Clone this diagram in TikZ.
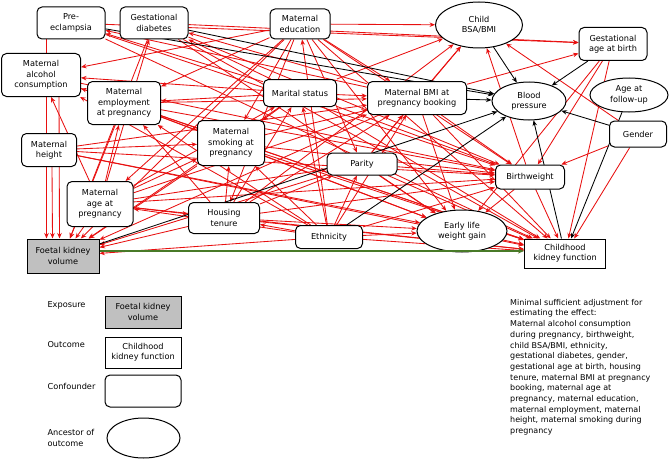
\documentclass[tikz,border=0pt]{standalone}
\usepackage{fontspec}
\setmainfont{DejaVu Sans}
\usetikzlibrary{arrows.meta,shapes.geometric,backgrounds}
\definecolor{dagred}{RGB}{232,16,16}
\definecolor{daggreen}{RGB}{72,122,40}
\definecolor{expogray}{RGB}{192,192,192}

\begin{document}
\begin{tikzpicture}[x=1pt, y=-1pt,
    font=\fontsize{8.2}{10.4}\selectfont,
    conf/.style={draw, rectangle, rounded corners=5pt, fill=white, align=center, line width=1pt, inner sep=1pt},
    anc/.style={draw, ellipse, fill=white, align=center, line width=1pt, inner sep=0pt},
    expo/.style={draw, rectangle, fill=expogray, align=center, line width=1pt, inner sep=1pt},
    outc/.style={draw, rectangle, fill=white, align=center, line width=1pt, inner sep=1pt},
    redarr/.style={dagred, line width=0.85pt, -{Stealth[length=5.5pt,width=4.5pt]}},
    blackarr/.style={black, line width=0.85pt, -{Stealth[length=5.5pt,width=4.5pt]}}]
    \useasboundingbox (0,0) rectangle (669,460);

    \node[conf, minimum width=68, minimum height=32] (pe) at (71,23) {Pre-\\eclampsia};
    \node[conf, minimum width=68, minimum height=32] (gd) at (154,23) {Gestational\\diabetes};
    \node[conf, minimum width=60, minimum height=30] (edu) at (300,24) {Maternal\\education};
    \node[anc, minimum width=87, minimum height=46] (bsa) at (479,25) {Child\\BSA/BMI};
    \node[conf, minimum width=68, minimum height=33] (gab) at (613,44) {Gestational\\age at birth};
    \node[conf, minimum width=79, minimum height=43] (alc) at (41,75) {Maternal\\alcohol\\consumption};
    \node[conf, minimum width=73, minimum height=43] (emp) at (124,103) {Maternal\\employment\\at pregnancy};
    \node[conf, minimum width=73, minimum height=27] (mar) at (300,93) {Marital status};
    \node[conf, minimum width=99, minimum height=33] (bmi) at (417,98) {Maternal BMI at\\pregnancy booking};
    \node[anc, minimum width=74, minimum height=38] (bp) at (529,101) {Blood\\pressure};
    \node[anc, minimum width=78, minimum height=34] (afu) at (629,95) {Age at\\follow-up};
    \node[conf, minimum width=57, minimum height=26] (gen) at (638,134) {Gender};
    \node[conf, minimum width=55, minimum height=33] (hgt) at (49,150) {Maternal\\height};
    \node[conf, minimum width=67, minimum height=45] (smk) at (231,143) {Maternal\\smoking at\\pregnancy};
    \node[conf, minimum width=70, minimum height=22] (par) at (362,164) {Parity};
    \node[conf, minimum width=69, minimum height=24] (bw) at (530,177) {Birthweight};
    \node[conf, minimum width=66, minimum height=45] (age) at (100,204) {Maternal\\age at\\pregnancy};
    \node[conf, minimum width=71, minimum height=31] (hou) at (224,218) {Housing\\tenure};
    \node[conf, minimum width=67, minimum height=23] (eth) at (329,237) {Ethnicity};
    \node[anc, minimum width=90, minimum height=42] (elw) at (462,231) {Early life\\weight gain};
    \node[expo, minimum width=72, minimum height=34] (fkv) at (63,256) {Foetal kidney\\volume};
    \node[outc, minimum width=81, minimum height=29] (ckf) at (565,253.5) {Childhood\\kidney function};

    \begin{pgfonlayer}{background}
    \draw[redarr] (eth) edge (edu) edge (mar) edge (emp) edge (par) edge (smk) edge (bmi) edge (age)
        edge (alc) edge (fkv) edge (bw) edge (elw) edge (ckf) edge (hou);
    \draw[redarr] (hou) edge (smk) edge (par) edge (bmi) edge (bsa) edge (mar) edge (emp)
        edge (fkv) edge (bw) edge (elw) edge (ckf);
    \draw[redarr] (age) edge (hou) edge (smk) edge (emp) edge (mar) edge (par) edge (bmi)
        edge (gd) edge (alc) edge (fkv) edge (bw) edge (ckf);
    \draw[redarr] (hgt) edge (smk) edge (bmi) edge (bw) edge (elw) edge (ckf);
    \draw[redarr] ([xshift=31pt]hgt.south west) -- ([xshift=26pt]fkv.north west);
    \draw[redarr] (edu) edge (alc) edge (emp) edge (smk) edge (bsa) edge (bmi) edge (par) edge (age)
        edge (hou) edge (fkv) edge (bw) edge (elw) edge (ckf);
    \draw[redarr] (mar) edge (pe) edge (emp) edge (alc) edge (smk) edge (bmi) edge (bsa) edge (gd)
        edge (fkv) edge (bw) edge (ckf);
    \draw[redarr] (emp) edge (smk) edge (alc) edge (bmi) edge (fkv) edge (bw) edge (elw) edge (ckf);
    \draw[redarr] (par) edge (bmi) edge (bsa) edge (fkv) edge (bw) edge (elw) edge (ckf);
    \draw[redarr] (smk) edge (bmi) edge (fkv) edge (bw) edge (elw) edge (ckf);
    \draw[redarr] ([xshift=58pt]alc.south west) -- ([xshift=33pt]fkv.north west);
    \draw[redarr] (alc) edge (bw) edge (ckf);
    \draw[redarr] (bmi) edge (gd) edge (pe) edge (bsa) edge (gab) edge (fkv) edge (bw) edge (elw) edge (ckf);
    \draw[redarr] (gd) edge (fkv) edge (bw) edge (elw) edge (ckf) edge (gab);
    \draw[redarr] ([xshift=10pt]pe.south west) -- ([xshift=20pt]fkv.north west);
    \draw[redarr] (pe) edge (gab) edge (bw) edge (ckf);
    \draw[redarr] (gen) edge (bsa) edge (bw) edge (ckf);
    \draw[redarr] (gab) edge (bw) edge (elw) edge (ckf);
    \draw[redarr] (bw) edge (bsa) edge (elw) edge (ckf);
    \draw[redarr] (elw) edge (ckf);
    \draw[blackarr] (pe) edge (bp) (gd) edge (bp) (bsa) edge (bp) (bmi) edge (bp) (gab) edge (bp)
        (gen) edge (bp) (fkv) edge (bp) (eth) edge (bp) (ckf) edge (bp) (afu) edge (ckf);
    \end{pgfonlayer}
    \draw[daggreen, line width=2.2pt, -{Stealth[length=6pt,width=5pt]}] ([yshift=5pt]fkv.east) -- ([yshift=5pt]fkv.east -| ckf.west);

    \node[anchor=west] (lexpo) at (44,305) {Exposure};
    \node[expo, minimum width=76, minimum height=32] (kexpo) at (143,312) {Foetal kidney\\volume};
    \node[anchor=west] (loutc) at (44,345) {Outcome};
    \node[outc, minimum width=76, minimum height=31] (koutc) at (143,352.5) {Childhood\\kidney function};
    \node[anchor=west] (lconf) at (44,386) {Confounder};
    \node[conf, minimum width=76, minimum height=32] (kconf) at (143,391) {};
    \node[anchor=west, align=left] (lanc) at (44,438) {Ancestor of\\outcome};
    \node[anc, minimum width=73, minimum height=40] (kanc) at (143.5,438) {};

    \node[anchor=north west, align=left, inner sep=0pt, font=\fontsize{8}{10.7}\selectfont] (adjust) at (510,299)
        {Minimal sufficient adjustment for\\estimating the effect:\\Maternal alcohol consumption\\during pregnancy, birthweight,\\child BSA/BMI, ethnicity,\\gestational diabetes, gender,\\gestational age at birth, housing\\tenure, maternal BMI at pregnancy\\booking, maternal age at\\pregnancy, maternal education,\\maternal employment, maternal\\height, maternal smoking during\\pregnancy};
\end{tikzpicture}
\end{document}
